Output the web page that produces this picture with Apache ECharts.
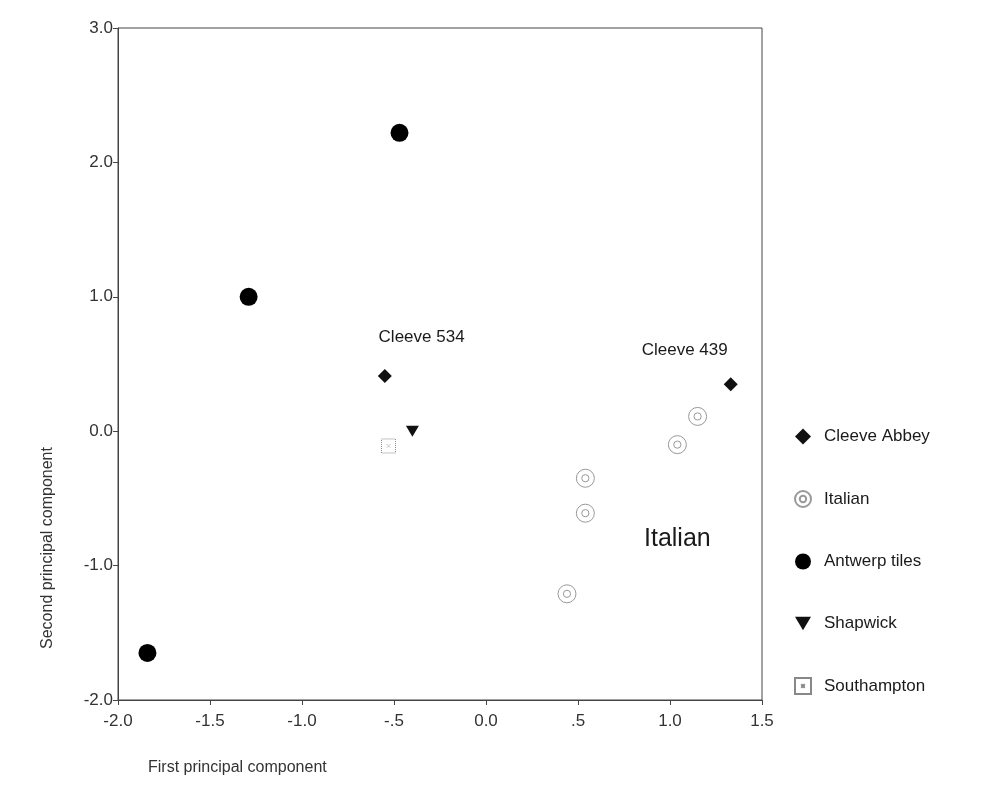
<!DOCTYPE html>
<html>
<head>
<meta charset="utf-8">
<script src="https://cdn.jsdelivr.net/npm/echarts@6/dist/echarts.min.js"></script>
<style>html,body{margin:0;padding:0;background:#fff}#c{width:988px;height:809px}</style>
</head>
<body>
<div id="c"></div>
<script>
const xTickValues = [-2.0, -1.5, -1.0, -0.5, 0.0, 0.5, 1.0, 1.5];
const xTickLabels = ['-2.0', '-1.5', '-1.0', '-.5', '0.0', '.5', '1.0', '1.5'];
const yTickValues = [-2, -1, 0, 1, 2, 3];
const yTickLabels = ['-2.0', '-1.0', '0.0', '1.0', '2.0', '3.0'];

const seriesNames = ['Cleeve Abbey', 'Italian', 'Antwerp tiles', 'Shapwick', 'Southampton'];
const cleeveAbbey = [[-0.55, 0.41], [1.33, 0.35]];
const italian = [[1.15, 0.11], [1.04, -0.10], [0.54, -0.35], [0.54, -0.61], [0.44, -1.21]];
const antwerp = [[-0.47, 2.22], [-1.29, 1.00], [-1.84, -1.65]];
const shapwick = [[-0.40, 0.00]];
const southampton = [[-0.53, -0.11]];

const annotationTexts = ['Cleeve 534', 'Cleeve 439', 'Italian'];
const annotationAt = [[-0.35, 0.70], [1.08, 0.60], [1.04, -0.80]];
const annotationSizes = [17, 17, 25];

const chart = echarts.init(document.getElementById('c'), null, { renderer: 'canvas' });
const font = 'Liberation Sans, Arial, sans-serif';

const ringPath = 'path://M0,10A10,10 0 1,1 20,10A10,10 0 1,1 0,10ZM6,10A4,4 0 1,1 14,10A4,4 0 1,1 6,10Z';
const boxPath = 'path://M1,1L19,1L19,19L1,19ZM8,8L12,12M12,8L8,12';
const downTri = 'path://M0,0L20,0L10,17Z';

function fmt(values, labels) {
  return function (v) {
    for (let i = 0; i < values.length; i++) if (Math.abs(values[i] - v) < 1e-6) return labels[i];
    return '';
  };
}

chart.setOption({
  animation: false,
  backgroundColor: '#fff',
  textStyle: { fontFamily: font },
  grid: { left: 118, right: 226, top: 28, bottom: 109, show: true, borderColor: '#444', borderWidth: 1, backgroundColor: 'transparent' },
  xAxis: {
    type: 'value', min: -2, max: 1.5, interval: 0.5,
    axisLine: { show: true, onZero: false, lineStyle: { color: '#444' } },
    axisTick: { show: true, length: 5, lineStyle: { color: '#444' } },
    splitLine: { show: false },
    axisLabel: { color: '#333', fontSize: 17, fontFamily: font, margin: 13, formatter: fmt(xTickValues, xTickLabels) }
  },
  yAxis: {
    type: 'value', min: -2, max: 3, interval: 1,
    axisLine: { show: true, onZero: false, lineStyle: { color: '#444' } },
    axisTick: { show: true, length: 5, lineStyle: { color: '#444' } },
    splitLine: { show: false },
    axisLabel: { color: '#333', fontSize: 17, fontFamily: font, margin: 5, formatter: fmt(yTickValues, yTickLabels) }
  },
  legend: {
    orient: 'vertical', left: 789, top: 423, itemGap: 45, itemWidth: 16, itemHeight: 16,
    data: seriesNames,
    textStyle: { color: '#1a1a1a', fontSize: 17, fontFamily: font, padding: [0, 0, 0, 8] }
  },
  graphic: [
    { type: 'text', left: 148, top: 760, style: { text: 'First principal component', fill: '#333', font: '16px ' + font } },
    { type: 'text', x: 48, y: 548, rotation: Math.PI / 2, style: { text: 'Second principal component', fill: '#333', font: '16px ' + font, textAlign: 'center', textVerticalAlign: 'middle' } }
  ],
  series: [
    {
      name: seriesNames[0], type: 'scatter', data: cleeveAbbey, symbol: 'diamond', symbolSize: 14,
      itemStyle: { color: '#111', opacity: 1 }
    },
    {
      name: seriesNames[1], type: 'scatter', data: italian, symbol: ringPath, symbolSize: 18,
      itemStyle: { color: '#fff', borderColor: '#999', borderWidth: 1, opacity: 1 }
    },
    {
      name: seriesNames[2], type: 'scatter', data: antwerp, symbol: 'circle', symbolSize: 18,
      itemStyle: { color: '#000', opacity: 1 }
    },
    {
      name: seriesNames[3], type: 'scatter', data: shapwick, symbol: downTri, symbolSize: [13, 11],
      itemStyle: { color: '#111', opacity: 1 }
    },
    {
      name: seriesNames[4], type: 'scatter', data: southampton, symbol: boxPath, symbolSize: 14,
      itemStyle: { color: '#fff', borderColor: '#888', borderWidth: 1, borderType: 'dotted', opacity: 1 }
    },
    {
      name: 'annotations', type: 'scatter', symbolSize: 0, silent: true,
      itemStyle: { opacity: 1 },
      data: annotationAt.map((c, i) => ({
        value: c,
        label: { show: true, position: 'inside', formatter: annotationTexts[i], color: '#1a1a1a', opacity: 1, fontSize: annotationSizes[i], fontFamily: font }
      }))
    }
  ]
});
</script>
</body>
</html>
